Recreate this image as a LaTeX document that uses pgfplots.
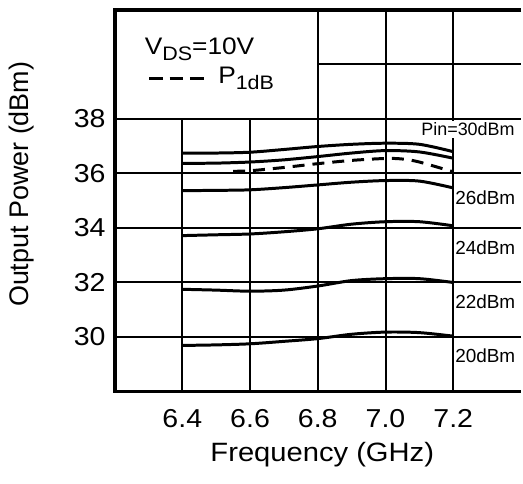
\documentclass[border=0pt]{standalone}
\usepackage{pgfplots}
\pgfplotsset{compat=1.18}
\usepackage{fontspec}
\setmainfont{Liberation Sans}
\newfontfamily\wfont[FakeStretch=1.1]{Liberation Sans}
\begin{document}
\begin{tikzpicture}
\begin{axis}[
  scale only axis,
  width=204pt, height=191.5pt,
  xmin=6.2, xmax=7.4, ymin=28, ymax=42,
  xtick={6.4,6.6,6.8,7.0,7.2},
  xticklabels={6.4,6.6,6.8,7.0,7.2},
  ytick={30,32,34,36,38},
  major tick length=0pt,
  axis line style={draw=none},
  tick label style={font=\wfont\fontsize{13}{14}\selectfont},
  /pgf/number format/assume math mode=true,
  xticklabel style={yshift=-5.5pt},
  yticklabel style={xshift=-1pt},
  clip=false,
]
% grid
\draw[line width=1pt] (axis cs:6.2,30) -- (axis cs:7.4,30);
\draw[line width=1pt] (axis cs:6.2,32) -- (axis cs:7.4,32);
\draw[line width=1pt] (axis cs:6.2,34) -- (axis cs:7.4,34);
\draw[line width=1pt] (axis cs:6.2,36) -- (axis cs:7.4,36);
\draw[line width=1pt] (axis cs:6.2,38) -- (axis cs:7.4,38);
\draw[line width=1pt] (axis cs:6.8,40) -- (axis cs:7.4,40);
\draw[line width=1pt] (axis cs:6.4,28) -- (axis cs:6.4,38);
\draw[line width=1pt] (axis cs:6.6,28) -- (axis cs:6.6,38);
\draw[line width=1pt] (axis cs:6.8,28) -- (axis cs:6.8,42);
\draw[line width=1pt] (axis cs:7.0,28) -- (axis cs:7.0,42);
\draw[line width=1pt] (axis cs:7.2,28) -- (axis cs:7.2,42);
% curves
\addplot[line width=1.5pt, smooth] coordinates {(6.4,36.75)(6.5,36.75)(6.6,36.78)(6.7,36.88)(6.8,36.99)(6.9,37.07)(7.0,37.11)(7.1,37.07)(7.2,36.8)};
\addplot[line width=1.5pt, smooth] coordinates {(6.4,36.37)(6.5,36.38)(6.6,36.42)(6.7,36.5)(6.8,36.62)(6.9,36.75)(7.0,36.84)(7.1,36.79)(7.2,36.56)};
\addplot[line width=1.5pt, smooth, dash pattern=on 6pt off 4pt] coordinates {(6.55,36.08)(6.6,36.1)(6.7,36.22)(6.8,36.36)(6.9,36.48)(7.0,36.55)(7.05,36.53)(7.1,36.42)(7.2,36.06)};
\addplot[line width=1.5pt, smooth] coordinates {(6.4,35.37)(6.5,35.38)(6.6,35.4)(6.7,35.48)(6.8,35.58)(6.9,35.68)(7.0,35.74)(7.1,35.72)(7.2,35.47)};
\addplot[line width=1.5pt, smooth] coordinates {(6.4,33.72)(6.5,33.75)(6.6,33.78)(6.7,33.86)(6.8,33.97)(6.9,34.14)(7.0,34.23)(7.1,34.23)(7.2,34.08)};
\addplot[line width=1.5pt, smooth] coordinates {(6.4,31.75)(6.5,31.72)(6.6,31.68)(6.7,31.72)(6.8,31.87)(6.9,32.07)(7.0,32.14)(7.1,32.14)(7.2,32.0)};
\addplot[line width=1.5pt, smooth] coordinates {(6.4,29.69)(6.5,29.71)(6.6,29.75)(6.7,29.84)(6.8,29.94)(6.9,30.1)(7.0,30.18)(7.1,30.16)(7.2,30.03)};
% curve labels
\node[anchor=west, fill=white, inner sep=0.8pt, font=\fontsize{9}{10}\selectfont] at (axis cs:7.1,37.62) {Pin=30dBm};
\node[anchor=west, inner sep=0.8pt, font=\fontsize{9.5}{10}\selectfont] at (axis cs:7.2,35.12) {26dBm};
\node[anchor=west, inner sep=0.8pt, font=\fontsize{9.5}{10}\selectfont] at (axis cs:7.2,33.27) {24dBm};
\node[anchor=west, inner sep=0.8pt, font=\fontsize{9.5}{10}\selectfont] at (axis cs:7.2,31.29) {22dBm};
\node[anchor=west, inner sep=0.8pt, font=\fontsize{9.5}{10}\selectfont] at (axis cs:7.2,29.31) {20dBm};
% legend box
\node[anchor=west, inner sep=0pt, font=\wfont\fontsize{12}{14}\selectfont] at (axis cs:6.288,40.57) {V\raisebox{-0.5ex}{\fontsize{9.8}{11}\selectfont DS}=10V};
\draw[line width=1.5pt, dash pattern=on 7pt off 3.25pt] (axis cs:6.302,39.5) -- (axis cs:6.463,39.5);
\node[anchor=west, inner sep=0pt, font=\wfont\fontsize{12}{14}\selectfont] at (axis cs:6.505,39.5) {P\raisebox{-0.5ex}{\fontsize{9.8}{11}\selectfont 1dB}};
% frame
\draw[line width=2pt, line join=miter] (rel axis cs:1,1) -- (rel axis cs:0,1) -- (rel axis cs:0,0) -- (rel axis cs:1,0);
\coordinate (SW) at (rel axis cs:0,0);
\coordinate (NW) at (rel axis cs:0,1);
\coordinate (ML) at (rel axis cs:0,0.543);
\coordinate (MB) at (rel axis cs:0.511,0);
\end{axis}
% axis labels
\node[rotate=90, font=\fontsize{13.5}{14}\selectfont] at ([xshift=-46.5pt]ML) {Output Power (dBm)};
\node[font=\wfont\fontsize{13.3}{14}\selectfont] at ([yshift=-31.5pt]MB) {Frequency (GHz)};
% bounding box
\path ([shift={(-57.5pt,-46pt)}]SW) -- ([yshift=5pt]NW);
\end{tikzpicture}
\end{document}
